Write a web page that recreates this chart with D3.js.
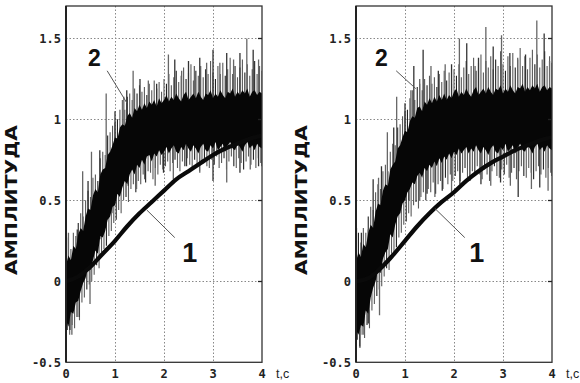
<!DOCTYPE html>
<html><head><meta charset="utf-8">
<script src="https://cdn.jsdelivr.net/npm/d3@7"></script>
<style>body{margin:0;background:#fff}svg{display:block}</style></head>
<body><svg id="c" width="580" height="383"></svg>
<script>
// ---------- data ----------
// sample times of the band / spike readings (every 0.05 s)
const tGrid = [0,0.05,0.1,0.15,0.2,0.25,0.3,0.35,0.4,0.45,0.5,0.55,0.6,0.65,0.7,0.75,0.8,0.85,0.9,0.95,1,1.05,1.1,1.15,1.2,1.25,1.3,1.35,1.4,1.45,1.5,1.55,1.6,1.65,1.7,1.75,1.8,1.85,1.9,1.95,2,2.05,2.1,2.15,2.2,2.25,2.3,2.35,2.4,2.45,2.5,2.55,2.6,2.65,2.7,2.75,2.8,2.85,2.9,2.95,3,3.05,3.1,3.15,3.2,3.25,3.3,3.35,3.4,3.45,3.5,3.55,3.6,3.65,3.7,3.75,3.8,3.85,3.9,3.95,4];
const t1Grid = [0,0.25,0.5,0.75,1,1.25,1.5,1.75,2,2.25,2.5,2.75,3,3.25,3.5,3.75,4];

// ---- panel A (left) ----
const curve1A = [0.0,0.03,0.09,0.17,0.25,0.34,0.42,0.49,0.56,0.63,0.68,0.73,0.78,0.82,0.85,0.88,0.90];
const bandLoA = [-0.24,-0.28,-0.19,-0.20,-0.13,-0.12,-0.06,-0.01,0.02,0.09,0.07,0.13,0.19,0.17,0.28,0.27,0.31,0.38,0.40,0.46,0.47,0.54,0.52,0.58,0.62,0.60,0.66,0.69,0.66,0.72,0.70,0.75,0.72,0.77,0.78,0.74,0.79,0.77,0.81,0.78,0.80,0.83,0.79,0.82,0.84,0.80,0.79,0.83,0.81,0.85,0.82,0.80,0.84,0.82,0.79,0.83,0.85,0.81,0.80,0.84,0.82,0.86,0.81,0.83,0.85,0.80,0.84,0.86,0.82,0.81,0.85,0.83,0.80,0.84,0.86,0.82,0.84,0.81,0.85,0.83,0.82];
const bandHiA = [0.10,0.16,0.13,0.22,0.20,0.29,0.33,0.31,0.40,0.45,0.44,0.53,0.57,0.55,0.66,0.69,0.70,0.78,0.80,0.84,0.89,0.88,0.95,0.97,0.96,1.02,1.04,1.01,1.07,1.05,1.09,1.06,1.10,1.07,1.11,1.09,1.12,1.08,1.13,1.10,1.12,1.15,1.11,1.14,1.12,1.16,1.13,1.11,1.15,1.17,1.12,1.14,1.16,1.13,1.17,1.14,1.12,1.16,1.15,1.18,1.13,1.16,1.14,1.18,1.15,1.13,1.17,1.16,1.19,1.14,1.17,1.15,1.18,1.16,1.19,1.14,1.17,1.18,1.15,1.17,1.16];
const spikeGridUpA = [0.22,0.27,0.20,0.30,0.28,0.36,0.42,0.40,0.50,0.56,0.52,0.64,0.66,0.62,0.76,0.80,0.78,0.90,0.92,0.96,0.98,1.00,1.06,1.12,1.06,1.14,1.16,1.12,1.19,1.16,1.21,1.17,1.20,1.15,1.22,1.18,1.24,1.19,1.23,1.17,1.25,1.22,1.28,1.21,1.26,1.30,1.23,1.27,1.32,1.25,1.29,1.34,1.24,1.30,1.27,1.33,1.26,1.31,1.28,1.36,1.29,1.25,1.33,1.28,1.35,1.27,1.31,1.38,1.28,1.33,1.26,1.32,1.37,1.29,1.34,1.27,1.31,1.36,1.28,1.33,1.30];
const spikeGridDnA = [-0.30,-0.33,-0.27,-0.29,-0.22,-0.24,-0.13,-0.10,-0.05,-0.02,0.00,0.04,0.10,0.08,0.18,0.20,0.22,0.28,0.31,0.36,0.38,0.44,0.42,0.50,0.52,0.49,0.57,0.60,0.55,0.62,0.60,0.66,0.61,0.68,0.67,0.63,0.70,0.66,0.72,0.69,0.71,0.74,0.68,0.73,0.75,0.70,0.68,0.74,0.71,0.76,0.72,0.69,0.75,0.72,0.68,0.74,0.76,0.71,0.70,0.75,0.72,0.77,0.70,0.73,0.76,0.69,0.74,0.77,0.71,0.70,0.76,0.73,0.69,0.74,0.77,0.72,0.75,0.70,0.76,0.73,0.71];
// tallest individual spikes [t, value]
const spikeUpA = [[0.05,0.30],[0.23,0.32],[0.34,0.68],[0.45,0.62],[0.52,0.80],[0.69,0.81],[0.82,1.16],[1.00,1.05],[1.18,1.14],[1.24,1.18],[1.37,1.30],[1.51,1.25],[1.68,1.24],[1.85,1.22],[2.09,1.40],[2.22,1.37],[2.36,1.30],[2.50,1.36],[2.62,1.33],[2.73,1.38],[2.87,1.35],[3.00,1.43],[3.14,1.35],[3.28,1.41],[3.42,1.37],[3.55,1.41],[3.69,1.50],[3.82,1.43],[3.93,1.37]];
const spikeDnA = [[0.08,-0.30],[0.12,-0.33],[0.27,-0.22],[0.49,-0.14],[0.69,0.26],[0.94,0.42],[1.27,0.59],[1.44,0.57],[1.61,0.63],[1.82,0.59],[1.99,0.67],[2.19,0.63],[2.46,0.71],[2.73,0.67],[3.00,0.62],[3.28,0.61],[3.55,0.67],[3.76,0.69],[3.93,0.71]];

// ---- panel B (right) ----
const curve1B = [0.0,0.02,0.08,0.16,0.25,0.34,0.42,0.49,0.55,0.62,0.68,0.73,0.77,0.81,0.84,0.87,0.89];
const bandLoB = [-0.30,-0.33,-0.27,-0.28,-0.18,-0.20,-0.10,-0.04,0.00,0.07,0.05,0.14,0.18,0.20,0.29,0.27,0.35,0.40,0.42,0.48,0.50,0.55,0.57,0.61,0.60,0.65,0.67,0.64,0.70,0.68,0.72,0.70,0.74,0.71,0.76,0.73,0.77,0.75,0.79,0.76,0.80,0.78,0.82,0.79,0.81,0.83,0.79,0.82,0.80,0.84,0.81,0.79,0.83,0.81,0.78,0.82,0.84,0.80,0.79,0.83,0.81,0.85,0.80,0.82,0.84,0.79,0.83,0.85,0.81,0.80,0.84,0.82,0.79,0.83,0.85,0.81,0.83,0.80,0.84,0.82,0.81];
const bandHiB = [0.12,0.18,0.15,0.23,0.21,0.30,0.35,0.33,0.43,0.48,0.47,0.56,0.60,0.59,0.69,0.72,0.74,0.82,0.84,0.89,0.93,0.92,0.99,1.02,1.01,1.07,1.08,1.05,1.11,1.09,1.13,1.10,1.14,1.11,1.15,1.12,1.16,1.12,1.15,1.13,1.17,1.19,1.14,1.17,1.15,1.19,1.16,1.14,1.18,1.20,1.15,1.17,1.19,1.16,1.20,1.17,1.15,1.19,1.18,1.21,1.16,1.19,1.17,1.21,1.18,1.16,1.20,1.19,1.22,1.17,1.20,1.18,1.21,1.19,1.22,1.17,1.20,1.21,1.18,1.20,1.19];
const spikeGridUpB = [0.26,0.30,0.24,0.33,0.30,0.40,0.46,0.44,0.55,0.60,0.57,0.68,0.72,0.68,0.80,0.85,0.84,0.95,0.97,1.02,1.05,1.06,1.13,1.18,1.12,1.20,1.22,1.18,1.25,1.21,1.27,1.22,1.26,1.20,1.28,1.23,1.30,1.24,1.29,1.22,1.31,1.27,1.34,1.26,1.32,1.36,1.28,1.33,1.38,1.30,1.35,1.40,1.29,1.36,1.32,1.39,1.31,1.37,1.33,1.42,1.34,1.30,1.39,1.33,1.41,1.32,1.37,1.44,1.33,1.39,1.31,1.38,1.43,1.34,1.40,1.32,1.37,1.42,1.33,1.39,1.35];
const spikeGridDnB = [-0.36,-0.40,-0.33,-0.35,-0.27,-0.29,-0.18,-0.14,-0.09,-0.05,-0.03,0.03,0.08,0.07,0.17,0.18,0.21,0.27,0.30,0.35,0.37,0.42,0.40,0.47,0.49,0.45,0.52,0.55,0.50,0.57,0.55,0.61,0.54,0.60,0.62,0.57,0.64,0.60,0.66,0.62,0.65,0.68,0.62,0.67,0.70,0.64,0.62,0.68,0.65,0.71,0.66,0.63,0.69,0.66,0.62,0.68,0.71,0.65,0.64,0.69,0.66,0.72,0.64,0.67,0.70,0.63,0.68,0.71,0.65,0.64,0.70,0.67,0.63,0.68,0.71,0.66,0.69,0.64,0.70,0.67,0.65];
const spikeUpB = [[0.01,0.33],[0.11,0.30],[0.25,0.32],[0.35,0.63],[0.46,0.64],[0.52,0.71],[0.64,0.92],[0.77,0.95],[0.83,1.14],[1.00,1.10],[1.12,1.18],[1.18,1.33],[1.30,1.25],[1.37,1.43],[1.53,1.33],[1.68,1.30],[1.82,1.34],[1.95,1.34],[2.11,1.50],[2.26,1.47],[2.43,1.33],[2.50,1.38],[2.65,1.57],[2.80,1.45],[2.97,1.52],[3.14,1.41],[3.30,1.38],[3.46,1.40],[3.69,1.61],[3.84,1.53],[3.95,1.36]];
const spikeDnB = [[0.08,-0.41],[0.16,-0.33],[0.25,-0.26],[0.48,-0.21],[0.69,0.30],[0.92,0.42],[1.08,0.50],[1.30,0.50],[1.45,0.54],[1.61,0.52],[1.76,0.56],[1.95,0.55],[2.12,0.60],[2.32,0.62],[2.55,0.60],[2.75,0.59],[2.95,0.61],[3.15,0.59],[3.31,0.52],[3.58,0.57],[3.75,0.58],[3.92,0.56]];

const xTicks = [0,1,2,3,4];
const xTickLabels = ["0","1","2","3","4"];
const yTicks = [-0.5,0,0.5,1,1.5];
const yTickLabels = ["-0.5","0","0.5","1","1.5"];
const yLabel = "АМПЛИТУДА";
const xLabel = "t,c";
const seriesNames = ["1","2"];

// ---------- drawing ----------
const svg = d3.select("#c");
const panels = [
  {left:66, right:262, c1:curve1A, lo:bandLoA, hi:bandHiA, gu:spikeGridUpA, gd:spikeGridDnA, up:spikeUpA, dn:spikeDnA,
   lab2:[0.45,1.33], lead2:[[0.84,1.30],[1.245,1.10]], lab1:[2.37,0.12], lead1:[[1.65,0.44],[2.22,0.27]]},
  {left:356, right:552, c1:curve1B, lo:bandLoB, hi:bandHiB, gu:spikeGridUpB, gd:spikeGridDnB, up:spikeUpB, dn:spikeDnB,
   lab2:[0.39,1.33], lead2:[[0.82,1.30],[1.22,1.19]], lab1:[2.31,0.12], lead1:[[1.61,0.45],[2.22,0.27]]}
];
const yTop = 6, yBot = 362.3;
const mono = "'DejaVu Sans Mono', 'Liberation Mono', monospace";

panels.forEach((p, i) => {
  const x = d3.scaleLinear().domain([0,4]).range([p.left, p.right]);
  const y = d3.scaleLinear().domain([-0.5,1.7]).range([yBot, yTop]);
  const g = svg.append("g");

  // grid
  g.selectAll(".gx").data(xTicks.slice(1,4)).join("line")
    .attr("x1", d=>Math.round(x(d))+0.5).attr("x2", d=>Math.round(x(d))+0.5).attr("y1", yTop).attr("y2", yBot)
    .attr("stroke","#888").attr("stroke-width",1).attr("stroke-dasharray","1.5,2");
  g.selectAll(".gy").data(yTicks.slice(1)).join("line")
    .attr("x1", p.left).attr("x2", p.right).attr("y1", d=>Math.round(y(d))+0.5).attr("y2", d=>Math.round(y(d))+0.5)
    .attr("stroke","#888").attr("stroke-width",1).attr("stroke-dasharray","1.5,2");

  const clipId = "clip"+i;
  svg.append("clipPath").attr("id",clipId).append("rect")
    .attr("x",p.left).attr("y",yTop).attr("width",p.right-p.left).attr("height",yBot-yTop);
  const dg = g.append("g").attr("clip-path",`url(#${clipId})`);

  // band centre (for spike bases)
  const mid = d3.scaleLinear().domain(tGrid).range(tGrid.map((t,k)=>(p.lo[k]+p.hi[k])/2));
  const halfStep = (tGrid[1]-tGrid[0])/2;
  const gridSpikes = tGrid.map((t,k)=>[t, p.gu[k]]).concat(tGrid.map((t,k)=>[Math.min(4,t+halfStep), p.gd[k]]));
  dg.selectAll(".gs").data(gridSpikes).join("line")
    .attr("x1", d=>x(d[0])).attr("x2", d=>x(d[0]))
    .attr("y1", d=>y(mid(d[0]))).attr("y2", d=>y(d[1]))
    .attr("stroke", (d,k)=> k%4===1 ? "#222" : "#5a5a5a").attr("stroke-width",1.1);
  dg.selectAll(".sp").data(p.up.concat(p.dn)).join("line")
    .attr("x1", d=>x(d[0])).attr("x2", d=>x(d[0]))
    .attr("y1", d=>y(mid(d[0]))).attr("y2", d=>y(d[1]))
    .attr("stroke", (d,k)=> k%2 ? "#333" : "#666").attr("stroke-width",1.3);

  // dense core of curve 2
  const band = tGrid.map((t,k)=>({t, lo:p.lo[k], hi:p.hi[k]}));
  dg.append("path").datum(band)
    .attr("d", d3.area().x(d=>x(d.t)).y0(d=>y(d.lo)).y1(d=>y(d.hi)).curve(d3.curveLinear))
    .attr("fill","#060606");

  // curve 1
  const c1 = t1Grid.map((t,k)=>({t, v:p.c1[k]}));
  dg.append("path").datum(c1)
    .attr("d", d3.line().x(d=>x(d.t)).y(d=>y(d.v)).curve(d3.curveCatmullRom))
    .attr("fill","none").attr("stroke","#0a0a0a").attr("stroke-width",4.2);

  // frame
  g.append("rect").attr("x",p.left).attr("y",yTop).attr("width",p.right-p.left).attr("height",yBot-yTop)
    .attr("fill","none").attr("stroke","#333").attr("stroke-width",1.3);
  g.append("line").attr("x1",p.left).attr("x2",p.left).attr("y1",yTop).attr("y2",yBot)
    .attr("stroke","#222").attr("stroke-width",2);
  g.selectAll(".rt").data(yTicks.slice(1)).join("line")
    .attr("x1", p.right-4).attr("x2", p.right).attr("y1", d=>Math.round(y(d))+0.5).attr("y2", d=>Math.round(y(d))+0.5)
    .attr("stroke","#222").attr("stroke-width",1.3);

  // tick labels
  g.selectAll(".yl").data(yTicks).join("text")
    .attr("x", p.left-5).attr("y", d=>y(d)).attr("dy","0.35em")
    .attr("text-anchor","end").attr("font-family",mono).attr("font-weight","bold")
    .attr("font-size",12).attr("fill","#222")
    .text((d,k)=>yTickLabels[k]);
  g.selectAll(".xl").data(xTicks).join("text")
    .attr("x", d=>x(d)).attr("y", 378)
    .attr("text-anchor","middle").attr("font-family",mono).attr("font-weight","bold")
    .attr("font-size",12).attr("fill","#222")
    .text((d,k)=>xTickLabels[k]);
  g.append("text").attr("x", p.right+14).attr("y",378)
    .attr("font-family","'Liberation Sans', Arial, sans-serif").attr("font-size",12.5).attr("fill","#222").text(xLabel);

  // y axis title
  g.append("text").attr("transform",`translate(${p.left-49},200) rotate(-90)`)
    .attr("text-anchor","middle").attr("font-family","'DejaVu Sans', Arial, sans-serif")
    .attr("font-weight","bold").attr("font-size",16).attr("fill","#111")
    .attr("textLength",150).attr("lengthAdjust","spacingAndGlyphs")
    .text(yLabel);

  // annotations
  [[p.lead2, p.lab2, seriesNames[1], 23],[p.lead1, p.lab1, seriesNames[0], 27]].forEach(([ld, lb, name, fs])=>{
    g.append("line").attr("x1",x(ld[0][0])).attr("y1",y(ld[0][1])).attr("x2",x(ld[1][0])).attr("y2",y(ld[1][1]))
      .attr("stroke","#555").attr("stroke-width",1);
    g.append("text").attr("x",x(lb[0])).attr("y",y(lb[1]))
      .attr("font-family","'Liberation Sans', Arial, sans-serif").attr("font-weight","bold")
      .attr("font-size",fs).attr("fill","#111").text(name);
  });
});
</script>
</body></html>
